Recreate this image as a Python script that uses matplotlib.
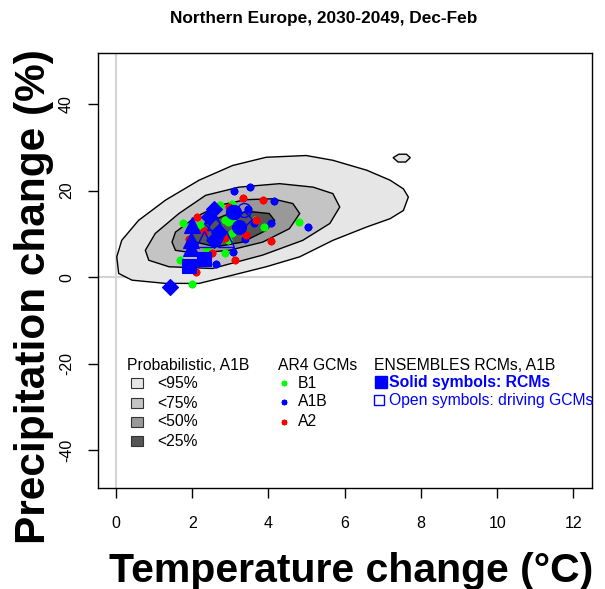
import numpy as np
import matplotlib
matplotlib.use("Agg")
import matplotlib.pyplot as plt
from matplotlib.patches import Rectangle

plt.rcParams['font.family'] = ['Liberation Sans', 'DejaVu Sans']

# probabilistic contours, temperature / precipitation
c95_x = [0.02, 0.07, 0.42, 1.30, 2.18, 3.06, 3.94, 4.82, 5.69, 6.58, 7.19, 7.54, 7.67,
         7.54, 7.19, 6.58, 5.69, 4.99, 3.94, 3.06, 2.18, 1.30, 0.59, 0.15]
c95_y = [4.7, 0.85, -0.7, -1.45, -1.45, 0.46, 2.4, 4.7, 8.5, 11.6, 13.5, 15.4, 18.5,
         20.4, 22.4, 24.7, 27.0, 28.1, 27.7, 25.8, 22.4, 17.8, 13.1, 8.5]
c95b_x = [7.27, 7.40, 7.60, 7.72, 7.62, 7.42]
c95b_y = [27.6, 26.6, 26.6, 27.6, 28.4, 28.4]
c75_x = [0.77, 0.86, 1.39, 2.53, 3.85, 4.90, 5.61, 5.87, 5.69, 5.17, 4.29, 3.23, 2.35, 1.65, 1.03]
c75_y = [6.2, 3.9, 2.4, 2.0, 5.1, 8.5, 12.4, 16.2, 19.3, 20.8, 21.6, 20.8, 18.9, 14.7, 10.1]
c50_x = [1.47, 1.56, 2.09, 2.97, 3.85, 4.55, 4.82, 4.64, 4.11, 3.41, 2.70, 2.09, 1.56]
c50_y = [8.1, 6.2, 5.5, 6.2, 8.1, 11.2, 14.7, 17.0, 18.1, 17.9, 16.6, 13.9, 10.4]
c25_x = [1.96, 2.09, 2.62, 3.32, 3.94, 4.16, 4.02, 3.58, 2.97, 2.35]
c25_y = [9.7, 8.1, 7.0, 8.1, 10.8, 13.1, 14.7, 15.1, 14.7, 12.4]
levels = ['<95%', '<75%', '<50%', '<25%']
level_cols = ['#e6e6e6', '#c4c4c4', '#999999', '#555555']

# AR4 GCMs
b1_x = [1.69, 2.00, 2.38, 2.87, 2.95, 1.77, 2.21, 2.74, 3.04, 2.87, 2.95, 3.65, 3.87, 4.79, 3.04, 3.10]
b1_y = [3.9, -1.6, 6.2, 5.5, 8.5, 12.5, 12.0, 16.6, 17.0, 13.3, 12.7, 13.1, 11.6, 12.7, 10.1, 12.9]
a1b_x = [3.10, 3.52, 4.15, 5.05, 4.07, 3.39, 3.06, 2.62, 3.61, 2.18, 3.45]
a1b_y = [19.9, 20.8, 17.6, 11.6, 12.4, 8.7, 5.8, 3.0, 12.4, 3.5, 15.8]
a2_x = [3.32, 3.85, 4.07, 3.13, 2.53, 2.09, 2.13, 2.31, 3.41, 1.91, 3.67, 2.97, 2.85]
a2_y = [18.4, 17.9, 8.4, 3.9, 5.6, 1.2, 13.9, 10.7, 9.7, 8.9, 13.1, 16.2, 9.0]
gcm_names = ['B1', 'A1B', 'A2']
gcm_cols = ['#00ff00', '#0000ff', '#ff0000']

# ENSEMBLES RCMs (solid) and their driving GCMs (open)
rcm_x = [1.91, 2.31, 1.96, 1.96, 2.00, 2.57, 2.44, 2.70, 2.57, 1.41, 3.10, 3.23]
rcm_y = [2.5, 4.3, 6.8, 8.6, 12.0, 15.8, 13.9, 10.4, 8.5, -2.3, 15.1, 11.6]
rcm_mk = ['s', 's', '^', '^', '^', 'D', 'D', 'D', 'D', 'D', 'o', 'o']
drv_x = [2.31, 2.88, 2.60, 3.36, 3.06, 2.53, 3.36]
drv_y = [8.9, 8.9, 12.8, 15.4, 15.1, 12.4, 13.5]
drv_mk = ['^', '^', '^', 'o', 'o', 'D', 'D']

xticks = [0, 2, 4, 6, 8, 10, 12]
yticks = [-40, -20, 0, 20, 40]

fig = plt.figure(figsize=(6.05, 5.89), dpi=100)
ax = fig.add_axes([0.1615, 0.1715, 0.8165, 0.738])

ax.axvline(0, color='#d3d3d3', lw=1.5, zorder=0.5)
ax.axhline(0, color='#d3d3d3', lw=1.5, zorder=0.5)

for cx, cy, col in [(c95_x, c95_y, level_cols[0]), (c95b_x, c95b_y, level_cols[0]),
                    (c75_x, c75_y, level_cols[1]), (c50_x, c50_y, level_cols[2]),
                    (c25_x, c25_y, level_cols[3])]:
    ax.fill(cx, cy, facecolor=col, edgecolor='black', lw=1, zorder=1)

ast = (8, 2, 0)
for gx, gy, c in [(b1_x, b1_y, gcm_cols[0]), (a1b_x, a1b_y, gcm_cols[1]), (a2_x, a2_y, gcm_cols[2])]:
    ax.plot(gx, gy, ls='none', marker=ast, ms=5.5, mec=c, mew=1.6, zorder=3)

sizes = {'s': 9.5, '^': 11, 'D': 8.5, 'o': 10}
for x, y, m in zip(drv_x, drv_y, drv_mk):
    ax.plot(x, y, ls='none', marker=m, ms=sizes[m], mfc='none', mec='#0000ff', mew=1, zorder=4)
for x, y, m in zip(rcm_x, rcm_y, rcm_mk):
    ax.plot(x, y, ls='none', marker=m, ms=sizes[m], mfc='#0000ff', mec='#0000ff', mew=0.8, zorder=5)

ax.set_xlim(-0.48, 12.48)
ax.set_ylim(-48.72, 51.72)
ax.set_xticks(xticks)
ax.set_yticks(yticks)
ax.set_yticklabels([str(v) for v in yticks], rotation=90, va='center')
ax.tick_params(direction='out', length=7, width=1, labelsize=11.5)
ax.tick_params(axis='x', pad=13)
ax.tick_params(axis='y', pad=10)
for s in ax.spines.values():
    s.set_linewidth(1)

fig.text(0.535, 1 - 18 / 589.0, 'Northern Europe, 2030-2049, Dec-Feb', fontsize=12.4,
         fontweight='bold', ha='center', va='center')
fig.text(0.58, 0.031, 'Temperature change (°C)', fontsize=29.5, fontweight='bold',
         ha='center', va='center')
fig.text(0.056, 0.497, 'Precipitation change (%)', fontsize=30.5, fontweight='bold',
         ha='center', va='center', rotation=90)

# legend block, placed by hand like the original
def fx(px):
    return px / 605.0

def fy(py):
    return 1 - py / 589.0

fs = 11.3
fig.text(fx(127), fy(365), 'Probabilistic, A1B', fontsize=fs, va='center')
for i, (lab, col) in enumerate(zip(levels, level_cols)):
    yy = [383, 403, 422, 441][i]
    fig.patches.append(Rectangle((fx(131), fy(yy + 5)), 12 / 605.0, 10 / 589.0,
                                 transform=fig.transFigure, facecolor=col,
                                 edgecolor='#333333', lw=0.8))
    fig.text(fx(157), fy(yy), lab, fontsize=fs, va='center')

fig.text(fx(278), fy(365), 'AR4 GCMs', fontsize=fs, va='center')
for i, (lab, col) in enumerate(zip(gcm_names, gcm_cols)):
    yy = [383, 402, 422][i]
    fig.lines.append(plt.Line2D([fx(284)], [fy(yy)], transform=fig.transFigure,
                                ls='none', marker=ast, ms=4, mec=col, mew=1.2))
    fig.text(fx(298), fy(yy), lab, fontsize=fs, va='center')

fig.text(fx(374), fy(365), 'ENSEMBLES RCMs, A1B', fontsize=fs, va='center')
fig.lines.append(plt.Line2D([fx(380.5)], [fy(382)], transform=fig.transFigure,
                            ls='none', marker='s', ms=8, mfc='#0000ff', mec='#0000ff'))
fig.text(fx(389), fy(382), 'Solid symbols: RCMs', fontsize=fs, va='center',
         color='#0000ff', fontweight='bold')
fig.lines.append(plt.Line2D([fx(379)], [fy(400)], transform=fig.transFigure,
                            ls='none', marker='s', ms=7, mfc='none', mec='#0000ff', mew=1))
fig.text(fx(389), fy(400), 'Open symbols: driving GCMs', fontsize=fs, va='center',
         color='#0000ff')

fig.savefig('out.png', dpi=100)
